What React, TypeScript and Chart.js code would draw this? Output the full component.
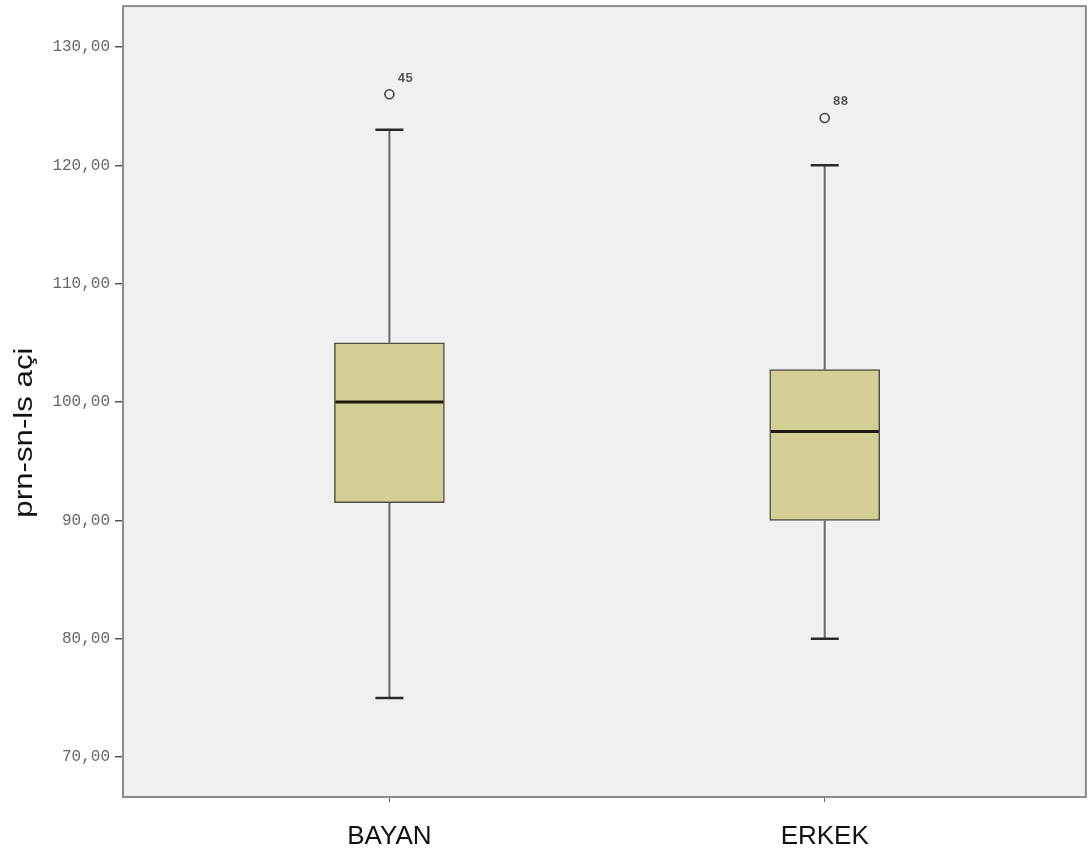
import { useEffect, useRef } from "react";
import { Chart, registerables } from "chart.js";

Chart.register(...registerables);

// Groups and their box-plot summaries
const groups = ["BAYAN", "ERKEK"];
const groupPos = [1, 2];
const q1 = [91.5, 90];
const median = [100, 97.5];
const q3 = [105, 102.75];
const whiskerLow = [75, 80];
const whiskerHigh = [123, 120];

// Outliers (value and case number)
const outlierGroup = [1, 2];
const outlierValues = [126, 124];
const outlierIds = ["45", "88"];

// Value axis
const yTicks = [70, 80, 90, 100, 110, 120, 130];
const yMin = 66.63;
const yMax = 133.45;
const xMin = 0.388;
const xMax = 2.6;
const yTitle = "prn-sn-ls açi";

const BOX_FILL = "#d4cf95";
const PLOT_BG = "#f0f0f0";

const boxPlotPlugin = {
  id: "boxPlotParts",
  beforeDraw(chart: any) {
    const { ctx, chartArea } = chart;
    ctx.save();
    ctx.fillStyle = PLOT_BG;
    ctx.fillRect(chartArea.left, chartArea.top, chartArea.right - chartArea.left, chartArea.bottom - chartArea.top);
    ctx.restore();
  },
  beforeDatasetsDraw(chart: any) {
    const { ctx } = chart;
    const xs = chart.scales.x;
    const ys = chart.scales.y;
    ctx.save();
    groupPos.forEach((g, i) => {
      const cx = xs.getPixelForValue(g);
      const yHi = ys.getPixelForValue(whiskerHigh[i]);
      const yLo = ys.getPixelForValue(whiskerLow[i]);
      const yQ3 = ys.getPixelForValue(q3[i]);
      const yQ1 = ys.getPixelForValue(q1[i]);
      ctx.strokeStyle = "#6a6a6a";
      ctx.lineWidth = 2;
      ctx.beginPath();
      ctx.moveTo(cx, yHi);
      ctx.lineTo(cx, yQ3);
      ctx.moveTo(cx, yQ1);
      ctx.lineTo(cx, yLo);
      ctx.stroke();
      ctx.strokeStyle = "#2a2a2a";
      ctx.lineWidth = 2.5;
      ctx.beginPath();
      ctx.moveTo(cx - 14, yHi);
      ctx.lineTo(cx + 14, yHi);
      ctx.moveTo(cx - 14, yLo);
      ctx.lineTo(cx + 14, yLo);
      ctx.stroke();
    });
    ctx.restore();
  },
  afterDatasetsDraw(chart: any) {
    const { ctx } = chart;
    const xs = chart.scales.x;
    const ys = chart.scales.y;
    const bars = chart.getDatasetMeta(0).data;
    ctx.save();
    // medians
    groupPos.forEach((g, i) => {
      const bar = bars[i];
      const half = bar.width / 2;
      const y = ys.getPixelForValue(median[i]);
      ctx.strokeStyle = "#1e1a10";
      ctx.lineWidth = 3;
      ctx.beginPath();
      ctx.moveTo(bar.x - half + 1, y);
      ctx.lineTo(bar.x + half - 1, y);
      ctx.stroke();
    });
    // outlier case labels
    ctx.fillStyle = "#555";
    ctx.font = "bold 13px 'Liberation Mono', monospace";
    ctx.textAlign = "left";
    ctx.textBaseline = "middle";
    outlierValues.forEach((v, i) => {
      const x = xs.getPixelForValue(outlierGroup[i]);
      const y = ys.getPixelForValue(v);
      ctx.fillText(outlierIds[i], x + 8, y - 16);
    });
    ctx.restore();
  },
  afterDraw(chart: any) {
    const { ctx, chartArea } = chart;
    ctx.save();
    ctx.strokeStyle = "#8c8c8c";
    ctx.lineWidth = 2;
    ctx.strokeRect(chartArea.left, chartArea.top, chartArea.right - chartArea.left, chartArea.bottom - chartArea.top);
    // vertical axis title
    const cy = (chartArea.top + chartArea.bottom) / 2 + 31;
    ctx.translate(25, cy);
    ctx.rotate(-Math.PI / 2);
    ctx.scale(1.25, 1);
    ctx.fillStyle = "#111";
    ctx.font = "25px 'Liberation Sans', Arial, sans-serif";
    ctx.textAlign = "center";
    ctx.textBaseline = "middle";
    ctx.fillText(yTitle, 0, 0);
    ctx.restore();
  },
};

export default function App() {
  const canvasRef = useRef<HTMLCanvasElement | null>(null);

  useEffect(() => {
    if (!canvasRef.current) return;
    const chart = new Chart(canvasRef.current, {
      type: "bar",
      data: {
        datasets: [
          {
            type: "bar",
            data: groupPos.map((x, i) => ({ x, y: [q1[i], q3[i]] })) as any,
            backgroundColor: BOX_FILL,
            borderColor: "#4e4e46",
            borderWidth: 1.5,
            borderSkipped: false,
            barThickness: 110,
          } as any,
          {
            type: "scatter",
            data: outlierGroup.map((x, i) => ({ x, y: outlierValues[i] })),
            pointStyle: "circle",
            pointRadius: 4.5,
            backgroundColor: "rgba(0,0,0,0)",
            borderColor: "#444",
            borderWidth: 1.6,
          } as any,
        ],
      },
      options: {
        animation: false,
        responsive: true,
        maintainAspectRatio: false,
        layout: { padding: { left: 0, top: 1, right: 3, bottom: 0 } },
        plugins: {
          legend: { display: false },
          tooltip: { enabled: false },
        },
        scales: {
          x: {
            type: "linear",
            min: xMin,
            max: xMax,
            offset: false,
            afterBuildTicks: (scale: any) => {
              scale.ticks = groupPos.map((v) => ({ value: v }));
            },
            afterFit: (scale: any) => {
              scale.height = 58;
              scale.paddingLeft = 0;
              scale.paddingRight = 0;
            },
            grid: {
              display: true,
              offset: false,
              drawOnChartArea: false,
              drawTicks: true,
              tickLength: 5,
              tickColor: "#666",
            },
            border: { display: false },
            ticks: {
              autoSkip: false,
              maxRotation: 0,
              padding: 19,
              color: "#111",
              font: { family: "'Liberation Sans', Arial, sans-serif", size: 26 },
              callback: (v: any) => groups[groupPos.indexOf(Number(v))] ?? "",
            },
          },
          y: {
            type: "linear",
            min: yMin,
            max: yMax,
            afterBuildTicks: (scale: any) => {
              scale.ticks = yTicks.map((v) => ({ value: v }));
            },
            afterFit: (scale: any) => {
              scale.width = 123;
              scale.paddingTop = 0;
              scale.paddingBottom = 0;
            },
            grid: {
              display: true,
              drawOnChartArea: false,
              drawTicks: true,
              tickLength: 8,
              tickColor: "#555",
              lineWidth: 1.5,
            },
            border: { display: false },
            ticks: {
              padding: 5,
              color: "#666",
              font: { family: "'Liberation Mono', 'Courier New', monospace", size: 16 },
              callback: (v: any) => Number(v).toFixed(2).replace(".", ","),
            },
          },
        },
      },
      plugins: [boxPlotPlugin],
    });
    return () => chart.destroy();
  }, []);

  return (
    <div style={{ position: "absolute", left: 0, top: 0, width: 1092, height: 855, background: "#fff" }}>
      <canvas ref={canvasRef} />
    </div>
  );
}
